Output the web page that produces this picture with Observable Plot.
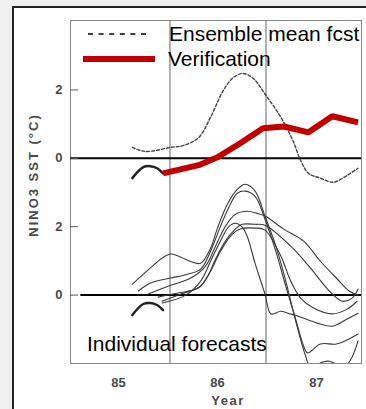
<!DOCTYPE html>
<html><head><meta charset="utf-8">
<script src="https://cdn.jsdelivr.net/npm/d3@7"></script>
<script src="https://cdn.jsdelivr.net/npm/@observablehq/plot@0.6"></script>
<style>
body{margin:0;background:#f0f0f0;width:366px;height:409px;overflow:hidden;position:relative;font-family:"Liberation Sans",Arial,sans-serif}
#box{position:absolute;left:12px;top:6px;width:400px;height:500px;background:#fff;border:2px solid #222;}
#chart{position:absolute;left:0;top:0}
g[aria-label="ticklab"] text{letter-spacing:2px}
</style></head><body><div id="box"></div><div id="chart"></div>
<script>
// ---- data ----
const xTicks = [85, 86, 87];
const xTickLabels = ["85", "86", "87"];
const yTicks = [2, 0, -2, -4];
const yTickLabels = ["2", "0", "2", "0"];
const panelOffset = -4;            // lower panel (individual forecasts) shifted by -4 °C
const guideYears = [85.52, 86.49]; // vertical guide lines
const lowerZeroStart = 84.62;

const obsYear = [85.14, 85.25, 85.32, 85.39, 85.45];
const obsSST  = [-0.58, -0.26, -0.23, -0.29, -0.44];

const ensYear = [85.14,85.27,85.53,85.66,85.81,85.93,86.06,86.16,86.26,86.36,86.49,86.64,86.76,86.84,86.92,87.04,87.17,87.31,87.42];
const ensSST  = [0.32,0.20,0.32,0.38,0.61,1.20,1.99,2.36,2.48,2.34,1.84,1.20,0.53,-0.06,-0.44,-0.58,-0.70,-0.50,-0.29];

const verYear = [85.45,85.81,86.00,86.23,86.46,86.67,86.92,87.16,87.42];
const verSST  = [-0.44,-0.20,0.03,0.44,0.88,0.93,0.76,1.23,1.05];

const fc1Year = [85.14,85.32,85.44,85.53,85.63,85.75,85.83,85.93,86.00,86.10,86.20,86.28,86.38,86.48,86.59,86.69,86.79,86.89,86.94,87.06,87.12,87.18,87.28,87.35,87.42];
const fc1SST  = [0.32,0.79,1.08,1.20,1.11,0.96,0.93,1.37,1.96,2.66,3.09,3.24,3.04,2.31,1.43,0.41,-0.76,-1.78,-2.10,-1.96,-1.93,-1.99,-2.10,-1.87,-1.34];
const fc2Year = [85.20,85.32,85.53,85.70,85.83,85.93,86.03,86.13,86.20,86.28,86.38,86.48,86.59,86.69,86.79,86.87,86.91,87.04,87.20,87.33,87.42];
const fc2SST  = [0.12,0.35,0.50,0.61,0.76,1.28,2.01,2.66,2.98,3.04,2.89,2.22,1.28,0.26,-0.70,-1.49,-1.69,-1.43,-1.43,-1.28,-1.14];
const fc3Year = [85.30,85.50,85.73,85.88,85.98,86.08,86.18,86.30,86.40,86.48,86.67,86.87,87.04,87.20,87.33,87.42];
const fc3SST  = [0.03,0.26,0.50,0.85,1.43,2.01,2.36,2.45,2.39,2.31,1.93,1.58,0.99,0.50,0.12,0.00];
const fc4Year = [85.40,85.60,85.80,85.90,85.98,86.08,86.18,86.25,86.38,86.48,86.74,86.94,87.13,87.26,87.36,87.42];
const fc4SST  = [-0.06,0.06,0.20,0.55,1.05,1.58,1.93,2.07,2.07,2.04,1.43,0.79,0.12,-0.18,-0.09,0.18];
const fc5Year = [85.44,85.63,85.83,85.93,86.03,86.13,86.23,86.38,86.48,86.64,86.74,86.84,86.97,87.16,87.31,87.41];
const fc5SST  = [-0.18,0.03,0.26,0.70,1.28,1.72,1.93,1.96,1.90,1.14,0.41,-0.09,-0.38,-0.55,-0.41,-0.18];
const fc6Year = [85.44,85.68,85.83,85.93,86.03,86.11,86.18,86.25,86.30,86.38,86.48,86.54,86.64,86.71,86.81,87.01,87.16,87.31,87.42];
const fc6SST  = [-0.23,0.00,0.41,0.99,1.58,1.99,2.10,1.99,1.72,0.93,0.03,-0.55,-0.47,-0.53,-0.61,-0.82,-0.91,-0.70,-0.53];

// ---- build ----
const rows = (xs, ys, off = 0) => xs.map((x, i) => ({x, y: ys[i] + off}));
const forecasts = [[fc1Year, fc1SST], [fc2Year, fc2SST], [fc3Year, fc3SST], [fc4Year, fc4SST], [fc5Year, fc5SST], [fc6Year, fc6SST]];
const xDomain = [84.515, 87.455];

const fcMarks = forecasts.map(([xs, ys]) =>
  Plot.line(rows(xs, ys, panelOffset), {x: "x", y: "y", stroke: "#3a3a3a", strokeWidth: 1.1, curve: "catmull-rom", clip: true}));

const chart = Plot.plot({
  width: 366, height: 409,
  marginLeft: 70, marginRight: 5, marginTop: 20, marginBottom: 46,
  style: {fontFamily: "'Liberation Sans', Arial, sans-serif", background: "transparent", overflow: "visible"},
  x: {domain: xDomain, axis: null},
  y: {domain: [-6, 4.03], axis: null},
  marks: [
    Plot.frame({stroke: "#8a8a8a", strokeWidth: 1}),
    Plot.ruleX(guideYears, {stroke: "#666", strokeWidth: 1}),
    Plot.ruleY([0], {stroke: "#000", strokeWidth: 2}),
    Plot.ruleY([panelOffset], {x1: lowerZeroStart, x2: xDomain[1], stroke: "#000", strokeWidth: 2}),
    ...fcMarks,
    Plot.line(rows(obsYear, obsSST, panelOffset), {x: "x", y: "y", stroke: "#222", strokeWidth: 2.5, curve: "catmull-rom"}),
    Plot.line(rows(obsYear, obsSST), {x: "x", y: "y", stroke: "#222", strokeWidth: 2.5, curve: "catmull-rom"}),
    Plot.line(rows(ensYear, ensSST), {x: "x", y: "y", stroke: "#444", strokeWidth: 1.4, strokeDasharray: "3,2", curve: "catmull-rom"}),
    Plot.line(rows(verYear, verSST), {x: "x", y: "y", stroke: "#c00000", strokeWidth: 6, strokeLinecap: "butt", strokeLinejoin: "miter"}),
    Plot.tickY(yTicks, {y: d => d, stroke: "#555", strokeWidth: 1, insetRight: 283}),
    Plot.text(yTicks, {y: d => d, frameAnchor: "left", dx: -8, textAnchor: "end", text: (d, i) => yTickLabels[i],
      fontSize: 13, fontWeight: "bold", fill: "#4a4a4a", ariaLabel: "ticklab"}),
    Plot.text(xTicks, {x: d => d, frameAnchor: "bottom", dy: 19, lineAnchor: "middle", text: (d, i) => xTickLabels[i],
      fontSize: 13, fontWeight: "bold", fill: "#4a4a4a", ariaLabel: "ticklab"})
  ]
});
document.getElementById("chart").appendChild(chart);

// ---- annotations / legend ----
const svg = d3.select(chart);
const g = svg.append("g").attr("font-family", "'Liberation Sans', Arial, sans-serif").attr("text-anchor", "start");
g.append("line").attr("x1", 88).attr("x2", 151).attr("y1", 34).attr("y2", 34)
  .attr("stroke", "#000").attr("stroke-width", 1.5).attr("stroke-dasharray", "5,5.6");
g.append("line").attr("x1", 83).attr("x2", 155).attr("y1", 59).attr("y2", 59)
  .attr("stroke", "#c00000").attr("stroke-width", 6);
g.append("text").attr("x", 169).attr("y", 40.5).attr("text-anchor", "start").attr("font-size", 21).attr("fill", "#000").text("Ensemble mean fcst");
g.append("text").attr("x", 168).attr("y", 65.5).attr("text-anchor", "start").attr("font-size", 21).attr("fill", "#000").text("Verification");
g.append("text").attr("x", 87).attr("y", 351).attr("text-anchor", "start").attr("font-size", 21).attr("fill", "#000").text("Individual forecasts");
g.append("text").attr("transform", "translate(33,175) rotate(-90)").attr("text-anchor", "middle")
  .attr("dominant-baseline", "central").attr("font-size", 13).attr("font-weight", "bold")
  .attr("letter-spacing", "2px").attr("fill", "#4a4a4a").text("NINO3 SST (°C)");
g.append("text").attr("x", 228).attr("y", 400).attr("text-anchor", "middle")
  .attr("dominant-baseline", "central").attr("font-size", 13).attr("font-weight", "bold")
  .attr("letter-spacing", "1.5px").attr("fill", "#4a4a4a").text("Year");
</script></body></html>
